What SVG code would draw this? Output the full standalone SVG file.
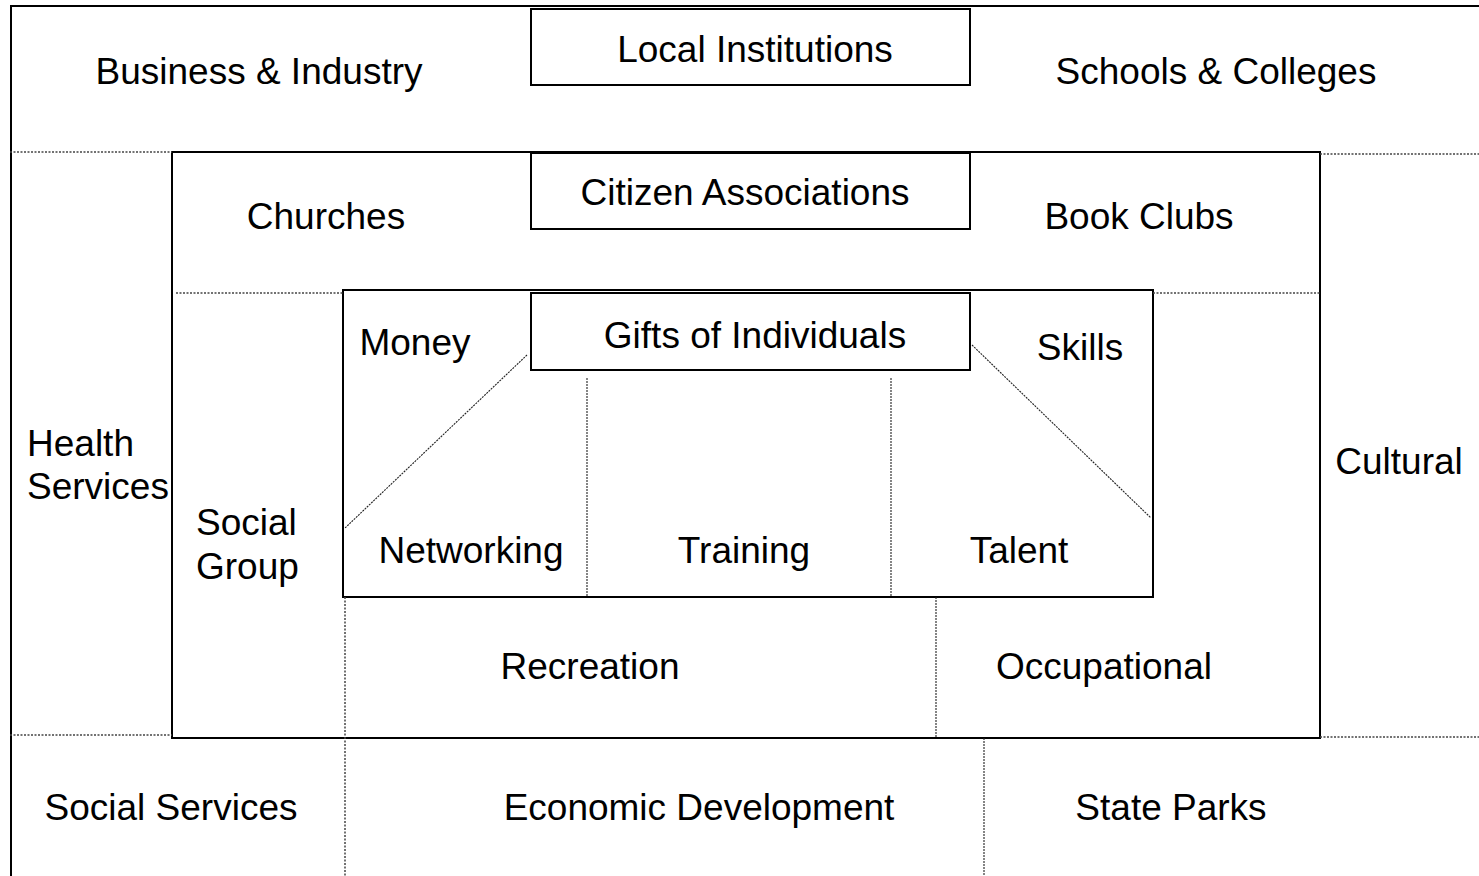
<svg xmlns="http://www.w3.org/2000/svg" width="1479" height="876" viewBox="0 0 1479 876">
  <style>
    .frame { fill: none; stroke: #000; stroke-width: 2; }
    .box { fill: #fff; stroke: #000; stroke-width: 2; }
    .div { fill: none; stroke: #444; stroke-width: 1.5; stroke-dasharray: 2 1.5; }
    .diag { fill: none; stroke: #222; stroke-width: 1.1; stroke-dasharray: 2 1; }
    text { font-family: "Liberation Sans", Arial, sans-serif; font-size: 37px; fill: #000; text-anchor: middle; }
  </style>

  <!-- outer community frame, open to the right and bottom -->
  <g id="community">
    <path class="frame" d="M11,876 V6 H1479"/>
  </g>

  <!-- associations ring -->
  <g id="associations">
    <rect class="frame" x="172" y="152" width="1148" height="586"/>
  </g>

  <!-- individuals core -->
  <g id="individuals">
    <rect class="frame" x="343" y="290" width="810" height="307"/>
  </g>

  <g id="connectors">
    <!-- dotted band dividers -->
    <line class="div" x1="10" y1="152" x2="172" y2="152"/>
    <line class="div" x1="1320" y1="154" x2="1479" y2="154"/>
    <line class="div" x1="176" y1="293" x2="343" y2="293"/>
    <line class="div" x1="1153" y1="293" x2="1320" y2="293"/>
    <line class="div" x1="10" y1="735" x2="172" y2="735"/>
    <line class="div" x1="1320" y1="737" x2="1479" y2="737"/>
    <line class="div" x1="345" y1="597" x2="345" y2="876"/>
    <line class="diag" x1="936" y1="597" x2="936" y2="738"/>
    <line class="diag" x1="984" y1="738" x2="984" y2="876"/>
    <line class="diag" x1="587" y1="378" x2="587" y2="597"/>
    <line class="diag" x1="891" y1="378" x2="891" y2="597"/>
    <!-- diagonals from the gifts box -->
    <line class="diag" x1="527" y1="355" x2="345" y2="528"/>
    <line class="diag" x1="972" y1="345" x2="1151" y2="518"/>
  </g>

  <g id="local-institutions">
    <rect class="box" x="531" y="9" width="439" height="76"/>
    <text x="755" y="62">Local Institutions</text>
  </g>
  <g id="citizen-associations">
    <rect class="box" x="531" y="153" width="439" height="76"/>
    <text x="745" y="205">Citizen Associations</text>
  </g>
  <g id="gifts-of-individuals">
    <rect class="box" x="531" y="293" width="439" height="77"/>
    <text x="755" y="348">Gifts of Individuals</text>
  </g>

  <g id="labels">
    <text x="259" y="84">Business &amp; Industry</text>
    <text x="1216" y="84">Schools &amp; Colleges</text>
    <text x="326" y="229">Churches</text>
    <text x="1139" y="229">Book Clubs</text>
    <text x="415" y="355">Money</text>
    <text x="1080" y="360">Skills</text>
    <text x="27" y="456" style="text-anchor:start">Health</text>
    <text x="27" y="499" style="text-anchor:start">Services</text>
    <text x="1399" y="474">Cultural</text>
    <text x="196" y="535" style="text-anchor:start">Social</text>
    <text x="196" y="579" style="text-anchor:start">Group</text>
    <text x="471" y="563">Networking</text>
    <text x="744" y="563">Training</text>
    <text x="1019" y="563">Talent</text>
    <text x="590" y="679">Recreation</text>
    <text x="1104" y="679">Occupational</text>
    <text x="171" y="820">Social Services</text>
    <text x="699" y="820">Economic Development</text>
    <text x="1171" y="820">State Parks</text>
  </g>
</svg>
